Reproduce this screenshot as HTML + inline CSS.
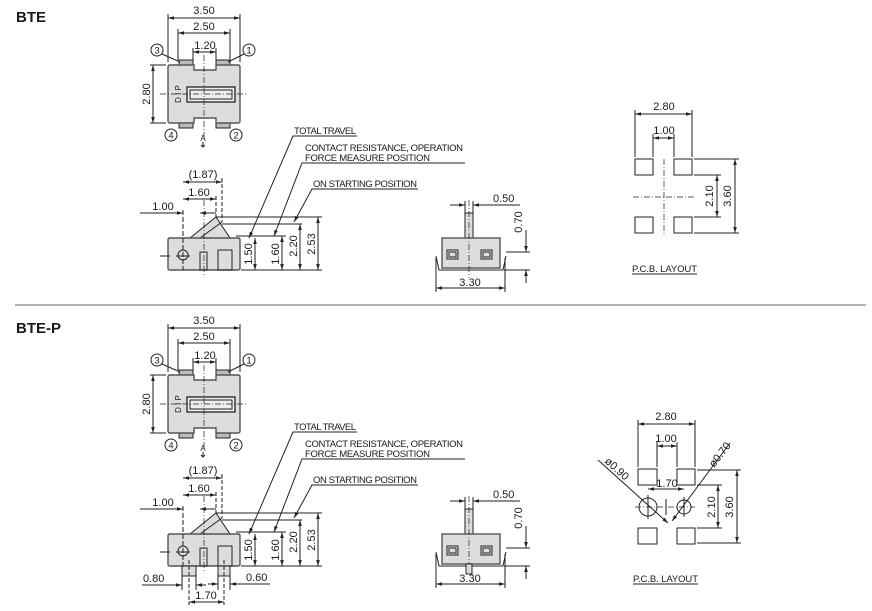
<!DOCTYPE html>
<html><head><meta charset="utf-8"><style>
html,body{margin:0;padding:0;background:#fff;width:872px;height:611px;overflow:hidden}
svg{display:block}
text{font-family:"Liberation Sans",sans-serif;fill:#1a1a1a}
.d{font-size:11px}
.l{font-size:9.5px}
</style></head><body>
<svg width="872" height="611" viewBox="0 0 872 611" xmlns="http://www.w3.org/2000/svg">
<defs>
<marker id="a" viewBox="0 0 10 10" refX="10" refY="5" markerWidth="6" markerHeight="6" orient="auto-start-reverse"><path d="M0,2 L10,5 L0,8 z" fill="#222"/></marker>
<g id="top" stroke="#222" fill="none" stroke-width="1">
  <rect x="179" y="60" width="14" height="6" fill="#bbb"/>
  <rect x="216" y="60" width="14" height="6" fill="#bbb"/>
  <rect x="179" y="122" width="14" height="6" fill="#bbb"/>
  <rect x="216" y="122" width="14" height="6" fill="#bbb"/>
  <path d="M170,65 H194 V70 H216 V65 H238 Q240,65 240,67 V121 Q240,123 238,123 H216 V118 H194 V123 H170 Q168,123 168,121 V67 Q168,65 170,65 Z" fill="#ddd" stroke="#555" stroke-width="1.4"/>
  <rect x="187" y="87" width="48" height="15" fill="#eee" stroke-width="1.3"/>
  <rect x="190" y="90" width="42" height="9"/>
  <line x1="204" y1="55" x2="204" y2="140" stroke-dasharray="6,2,1,2" stroke-width="0.7"/>
  <line x1="160" y1="94" x2="246" y2="94" stroke-dasharray="6,2,1,2" stroke-width="0.7"/>
  <line x1="168" y1="62" x2="168" y2="14"/><line x1="240" y1="62" x2="240" y2="14"/>
  <line x1="168" y1="18" x2="240" y2="18" marker-start="url(#a)" marker-end="url(#a)"/>
  <line x1="178" y1="60" x2="178" y2="29"/><line x1="230" y1="60" x2="230" y2="29"/>
  <line x1="178" y1="33" x2="230" y2="33" marker-start="url(#a)" marker-end="url(#a)"/>
  <line x1="193" y1="60" x2="193" y2="48"/><line x1="216" y1="60" x2="216" y2="48"/>
  <line x1="193" y1="52" x2="216" y2="52" marker-start="url(#a)" marker-end="url(#a)"/>
  <line x1="166" y1="65" x2="150" y2="65"/><line x1="166" y1="123" x2="150" y2="123"/>
  <line x1="153" y1="65" x2="153" y2="123" marker-start="url(#a)" marker-end="url(#a)"/>
  <circle cx="157" cy="50" r="6"/><circle cx="249" cy="50" r="6"/>
  <circle cx="171" cy="135" r="6"/><circle cx="236" cy="135" r="6"/>
  <line x1="162" y1="54" x2="180" y2="62"/><line x1="244" y1="54" x2="228" y2="62"/>
  <path d="M203,142 v5 M201,145 l2,2 2,-2"/>
</g>
<g id="toptx">
  <text class="d" x="204" y="14" text-anchor="middle">3.50</text>
  <text class="d" x="204" y="30" text-anchor="middle">2.50</text>
  <text class="d" x="205" y="49" text-anchor="middle">1.20</text>
  <text class="d" transform="translate(150,94) rotate(-90)" text-anchor="middle">2.80</text>
  <text style="font-size:8px" transform="translate(181,94) rotate(-90)" text-anchor="middle">D I P</text>
  <text class="l" x="157" y="53.5" text-anchor="middle">3</text>
  <text class="l" x="249" y="53.5" text-anchor="middle">1</text>
  <text class="l" x="171" y="138.5" text-anchor="middle">4</text>
  <text class="l" x="236" y="138.5" text-anchor="middle">2</text>
  <text style="font-size:8px" x="203" y="141" text-anchor="middle">A</text>
</g>
<g id="side" stroke="#222" fill="none" stroke-width="1">
  <path d="M190,238 L216,217 L230,238 Z" fill="#ddd"/>
  <line x1="200" y1="238" x2="222" y2="222"/>
  <path d="M170,238 H238 Q240,238 240,240 V268 Q240,270 238,270 H170 Q168,270 168,268 V240 Q168,238 170,238 Z" fill="#ddd" stroke="#555" stroke-width="1.4"/>
  <circle cx="183" cy="255" r="5"/>
  <line x1="176" y1="256" x2="190" y2="256"/>
  <line x1="160" y1="256" x2="170" y2="256"/>
  <rect x="200" y="252" width="7" height="18"/>
  <rect x="218" y="250" width="14" height="20"/>
  <line x1="183" y1="210" x2="183" y2="270" stroke-dasharray="5,2"/>
  <line x1="204" y1="200" x2="204" y2="275" stroke-dasharray="6,2,1,2" stroke-width="0.7"/>
  <line x1="216" y1="196" x2="216" y2="217" stroke-dasharray="4,2"/>
  <line x1="222" y1="178" x2="222" y2="222" stroke-dasharray="4,2"/>
  <line x1="183" y1="182" x2="222" y2="182" marker-start="url(#a)" marker-end="url(#a)"/>
  <line x1="183" y1="199" x2="216" y2="199" marker-start="url(#a)" marker-end="url(#a)"/>
  <line x1="140" y1="213" x2="183" y2="213" marker-end="url(#a)"/>
  <line x1="200" y1="213" x2="216" y2="213" marker-start="url(#a)"/>
  <line x1="216" y1="217" x2="322" y2="217"/>
  <line x1="222" y1="224" x2="302" y2="224"/>
  <line x1="236" y1="236" x2="286" y2="236"/>
  <line x1="241" y1="270" x2="322" y2="270"/>
  <line x1="255" y1="238" x2="255" y2="270" marker-start="url(#a)" marker-end="url(#a)"/>
  <line x1="282" y1="236" x2="282" y2="270" marker-start="url(#a)" marker-end="url(#a)"/>
  <line x1="300" y1="224" x2="300" y2="270" marker-start="url(#a)" marker-end="url(#a)"/>
  <line x1="318" y1="217" x2="318" y2="270" marker-start="url(#a)" marker-end="url(#a)"/>
  <polyline points="357,136 293,136 249,238" marker-end="url(#a)"/>
  <polyline points="465,163 302,163 274,236" marker-end="url(#a)"/>
  <polyline points="418,189 312,189 294,222" marker-end="url(#a)"/>
</g>
<g id="sidetx">
  <text class="d" x="203" y="178" text-anchor="middle">(1.87)</text>
  <text class="d" x="199" y="196" text-anchor="middle">1.60</text>
  <text class="d" x="163" y="210" text-anchor="middle">1.00</text>
  <text class="d" transform="translate(252,254) rotate(-90)" text-anchor="middle">1.50</text>
  <text class="d" transform="translate(279,254) rotate(-90)" text-anchor="middle">1.60</text>
  <text class="d" transform="translate(297,246) rotate(-90)" text-anchor="middle">2.20</text>
  <text class="d" transform="translate(315,244) rotate(-90)" text-anchor="middle">2.53</text>
  <text class="l" x="294" y="134" textLength="62">TOTAL  TRAVEL</text>
  <text class="l" x="305" y="151" textLength="158">CONTACT  RESISTANCE,  OPERATION</text>
  <text class="l" x="305" y="161" textLength="125">FORCE  MEASURE  POSITION</text>
  <text class="l" x="313" y="187" textLength="104">ON  STARTING  POSITION</text>
</g>
<g id="front" stroke="#222" fill="none" stroke-width="1">
  <rect x="465" y="213" width="8" height="25" fill="#ddd"/>
  <rect x="442" y="238" width="58" height="30" fill="#ddd" stroke="#555" stroke-width="1.4"/>
  <rect x="447" y="250" width="11" height="9"/><rect x="449" y="252" width="7" height="5"/>
  <rect x="481" y="250" width="11" height="9"/><rect x="483" y="252" width="7" height="5"/>
  <path d="M436,256 L439,270 H503 L506,256"/>
  <line x1="469" y1="200" x2="469" y2="278" stroke-dasharray="6,2,1,2" stroke-width="0.7"/>
  <line x1="465" y1="213" x2="465" y2="201"/><line x1="473" y1="213" x2="473" y2="201"/>
  <line x1="450" y1="205" x2="465" y2="205" marker-end="url(#a)"/>
  <line x1="473" y1="205" x2="520" y2="205" marker-start="url(#a)"/>
  <line x1="506" y1="252" x2="530" y2="252"/><line x1="504" y1="270" x2="530" y2="270"/>
  <line x1="526" y1="230" x2="526" y2="252" marker-end="url(#a)"/>
  <line x1="526" y1="283" x2="526" y2="270" marker-end="url(#a)"/>
  <line x1="436" y1="258" x2="436" y2="292"/><line x1="505" y1="258" x2="505" y2="292"/>
  <line x1="436" y1="288" x2="505" y2="288" marker-start="url(#a)" marker-end="url(#a)"/>
</g>
<g id="fronttx">
  <text class="d" x="493" y="202">0.50</text>
  <text class="d" transform="translate(522,222) rotate(-90)" text-anchor="middle">0.70</text>
  <text class="d" x="470" y="286" text-anchor="middle">3.30</text>
</g>
</defs>

<text x="16" y="22" style="font-size:15px;font-weight:bold">BTE</text>
<line x1="15" y1="305" x2="866" y2="305" stroke="#888" stroke-width="1.3"/>
<text x="16" y="333" style="font-size:15px;font-weight:bold">BTE-P</text>

<use href="#top"/><use href="#toptx"/>
<use href="#side"/><use href="#sidetx"/>
<use href="#front"/><use href="#fronttx"/>

<g transform="translate(0,310)"><use href="#top"/><use href="#toptx"/></g>
<g transform="translate(0,296)"><use href="#side"/><use href="#sidetx"/><use href="#front"/><use href="#fronttx"/></g>

<g stroke="#222" fill="none" stroke-width="1">
  <rect x="182" y="566" width="14" height="10" fill="#ddd"/>
  <rect x="218" y="566" width="12" height="10" fill="#ddd"/>
  <line x1="189" y1="560" x2="189" y2="605" stroke-dasharray="4,2"/>
  <line x1="224" y1="560" x2="224" y2="605" stroke-dasharray="4,2"/>
  <line x1="182" y1="576" x2="182" y2="590"/><line x1="196" y1="576" x2="196" y2="590"/>
  <line x1="218" y1="576" x2="218" y2="590"/><line x1="230" y1="576" x2="230" y2="590"/>
  <line x1="142" y1="585" x2="182" y2="585" marker-end="url(#a)"/>
  <line x1="196" y1="585" x2="206" y2="585" marker-start="url(#a)"/>
  <line x1="208" y1="584" x2="218" y2="584" marker-end="url(#a)"/>
  <line x1="230" y1="584" x2="270" y2="584" marker-start="url(#a)"/>
  <line x1="189" y1="602" x2="224" y2="602" marker-start="url(#a)" marker-end="url(#a)"/>
  <rect x="466" y="564" width="6" height="10" fill="#ddd"/>
</g>
<text class="d" x="143" y="582">0.80</text>
<text class="d" x="246" y="581">0.60</text>
<text class="d" x="206" y="599" text-anchor="middle">1.70</text>

<g stroke="#222" fill="none" stroke-width="1">
  <rect x="635" y="159" width="18" height="16"/><rect x="674" y="159" width="18" height="16"/>
  <rect x="635" y="217" width="18" height="16"/><rect x="674" y="217" width="18" height="16"/>
  <line x1="633" y1="197" x2="696" y2="197" stroke-dasharray="6,2,1,2" stroke-width="0.7"/>
  <line x1="664" y1="159" x2="664" y2="236" stroke-dasharray="6,2,1,2" stroke-width="0.7"/>
  <line x1="635" y1="157" x2="635" y2="110"/><line x1="692" y1="157" x2="692" y2="110"/>
  <line x1="635" y1="114" x2="692" y2="114" marker-start="url(#a)" marker-end="url(#a)"/>
  <line x1="653" y1="157" x2="653" y2="134"/><line x1="674" y1="157" x2="674" y2="134"/>
  <line x1="653" y1="138" x2="674" y2="138" marker-start="url(#a)" marker-end="url(#a)"/>
  <line x1="694" y1="159" x2="739" y2="159"/><line x1="694" y1="233" x2="739" y2="233"/>
  <line x1="694" y1="175" x2="721" y2="175"/><line x1="694" y1="217" x2="721" y2="217"/>
  <line x1="717" y1="175" x2="717" y2="217" marker-start="url(#a)" marker-end="url(#a)"/>
  <line x1="735" y1="159" x2="735" y2="233" marker-start="url(#a)" marker-end="url(#a)"/>
  <line x1="632" y1="274" x2="697" y2="274"/>
</g>
<text class="d" x="664" y="110" text-anchor="middle">2.80</text>
<text class="d" x="664" y="134" text-anchor="middle">1.00</text>
<text class="d" transform="translate(713,196) rotate(-90)" text-anchor="middle">2.10</text>
<text class="d" transform="translate(731,196) rotate(-90)" text-anchor="middle">3.60</text>
<text class="l" x="632" y="272" textLength="65">P.C.B.  LAYOUT</text>

<g stroke="#222" fill="none" stroke-width="1">
  <rect x="638" y="469" width="19" height="16"/><rect x="677" y="469" width="18" height="16"/>
  <rect x="638" y="528" width="19" height="16"/><rect x="677" y="528" width="18" height="16"/>
  <circle cx="648" cy="507" r="9"/><circle cx="684" cy="507" r="7"/>
  <line x1="635" y1="507" x2="695" y2="507" stroke-dasharray="6,2,1,2" stroke-width="0.7"/>
  <line x1="648" y1="495" x2="648" y2="519"/><line x1="684" y1="497" x2="684" y2="517"/>
  <line x1="666" y1="499" x2="666" y2="515"/>
  <line x1="638" y1="467" x2="638" y2="420"/><line x1="695" y1="467" x2="695" y2="420"/>
  <line x1="638" y1="424" x2="695" y2="424" marker-start="url(#a)" marker-end="url(#a)"/>
  <line x1="657" y1="467" x2="657" y2="442"/><line x1="677" y1="467" x2="677" y2="442"/>
  <line x1="657" y1="446" x2="677" y2="446" marker-start="url(#a)" marker-end="url(#a)"/>
  <line x1="648" y1="489" x2="684" y2="489" marker-start="url(#a)" marker-end="url(#a)"/>
  <line x1="598" y1="460" x2="668" y2="523" marker-end="url(#a)"/>
  <line x1="730" y1="443" x2="672" y2="521" marker-end="url(#a)"/>
  <line x1="697" y1="470" x2="741" y2="470"/><line x1="697" y1="543" x2="741" y2="543"/>
  <line x1="697" y1="485" x2="722" y2="485"/><line x1="697" y1="528" x2="722" y2="528"/>
  <line x1="718" y1="485" x2="718" y2="528" marker-start="url(#a)" marker-end="url(#a)"/>
  <line x1="737" y1="470" x2="737" y2="543" marker-start="url(#a)" marker-end="url(#a)"/>
  <line x1="633" y1="584" x2="698" y2="584"/>
</g>
<text class="d" x="666" y="420" text-anchor="middle">2.80</text>
<text class="d" x="666" y="442" text-anchor="middle">1.00</text>
<text class="d" x="667" y="487" text-anchor="middle">1.70</text>
<text class="d" transform="translate(604,462) rotate(42)">ø0.90</text>
<text class="d" transform="translate(714,468) rotate(-52)">ø0.70</text>
<text class="d" transform="translate(715,507) rotate(-90)" text-anchor="middle">2.10</text>
<text class="d" transform="translate(733,507) rotate(-90)" text-anchor="middle">3.60</text>
<text class="l" x="633" y="582" textLength="65">P.C.B.  LAYOUT</text>
</svg>
</body></html>
